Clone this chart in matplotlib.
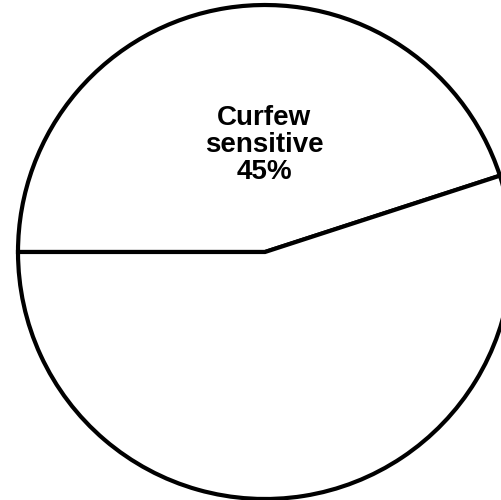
import matplotlib
matplotlib.use("Agg")
import matplotlib.pyplot as plt

categories = ["Curfew\nsensitive", "Other"]
values = [45, 55]
show_label = [True, False]

fig = plt.figure(figsize=(5.02, 5.0), dpi=100)
ax = fig.add_axes([0, 0, 1, 1])
wedges, _ = ax.pie(values, startangle=180, counterclock=False,
                   colors=["white", "white"],
                   wedgeprops=dict(edgecolor="black", linewidth=3.0))
for cat, val, show in zip(categories, values, show_label):
    if show:
        ax.text(-0.004, 0.433, f"{cat}\n{val}%", ha="center", va="center",
                fontsize=20, fontweight="bold", family="Liberation Sans",
                linespacing=1.07)
ax.set_xlim(-265/247, 237/247)
ax.set_ylim(-248/247, 252/247)
ax.set_aspect("auto")
ax.axis("off")
fig.savefig("out.png", dpi=100, facecolor="white")
